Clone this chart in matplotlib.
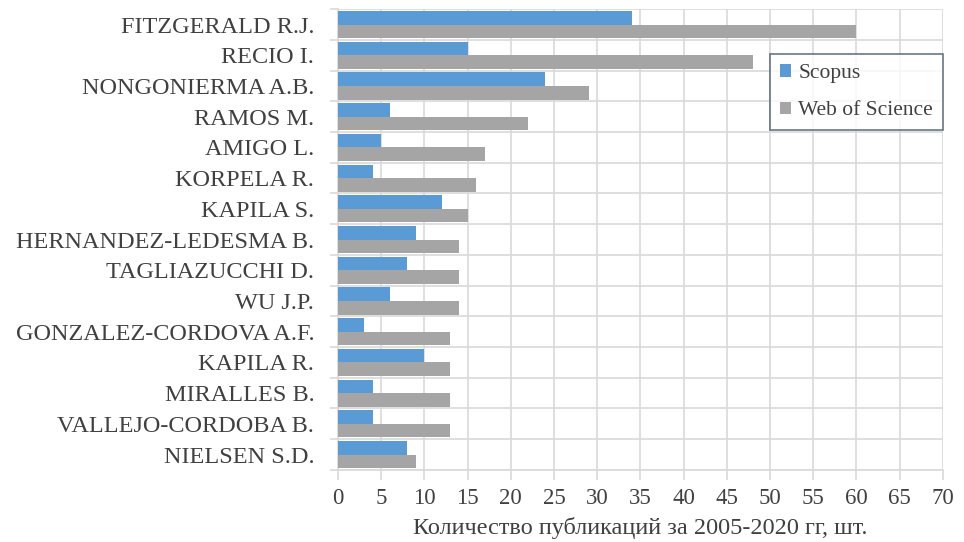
import matplotlib.pyplot as plt
import numpy as np
from matplotlib.ticker import FixedLocator, MultipleLocator

authors = [
    "FITZGERALD R.J.",
    "RECIO I.",
    "NONGONIERMA A.B.",
    "RAMOS M.",
    "AMIGO L.",
    "KORPELA R.",
    "KAPILA S.",
    "HERNANDEZ-LEDESMA B.",
    "TAGLIAZUCCHI D.",
    "WU J.P.",
    "GONZALEZ-CORDOVA A.F.",
    "KAPILA R.",
    "MIRALLES B.",
    "VALLEJO-CORDOBA B.",
    "NIELSEN S.D.",
]
scopus = [34, 15, 24, 6, 5, 4, 12, 9, 8, 6, 3, 10, 4, 4, 8]
wos = [60, 48, 29, 22, 17, 16, 15, 14, 14, 14, 13, 13, 13, 13, 9]

BLUE = "#5B9BD5"
GRAY = "#A5A5A5"
GRID = "#D9D9D9"
TEXT = "#404040"

plt.rcParams["font.family"] = ["Liberation Serif", "DejaVu Serif"]

fig = plt.figure(figsize=(9.64, 5.42), dpi=100)
ax = fig.add_axes([0.3506, 0.133, 0.978 - 0.3506, 0.983 - 0.133])

y = np.arange(len(authors))
h = 0.44
ax.barh(y - h / 2, scopus, height=h, color=BLUE, label="Scopus", zorder=3)
ax.barh(y + h / 2, wos, height=h, color=GRAY, label="Web of Science", zorder=3)

ax.set_ylim(len(authors) - 0.5, -0.5)
ax.set_xlim(0, 70)
ax.xaxis.set_major_locator(MultipleLocator(5))
ax.set_yticks(y)
ax.set_yticklabels(authors, fontsize=17.5, color=TEXT)
ax.yaxis.set_minor_locator(FixedLocator(np.arange(-0.5, len(authors), 1)))

# category separators get the small outward ticks, labels sit in between
ax.tick_params(axis="y", which="major", length=0, pad=17)
ax.tick_params(axis="y", which="minor", length=6, color=GRID, width=1.2)
ax.tick_params(axis="x", which="major", length=7, color=GRID, width=1.2,
               labelsize=16.5, labelcolor=TEXT, pad=6)

ax.grid(True, axis="x", color=GRID, linewidth=1.2, zorder=0)
ax.grid(True, axis="y", which="minor", color=GRID, linewidth=1.2, zorder=0)
ax.set_axisbelow(True)

for side in ["top", "right"]:
    ax.spines[side].set_visible(False)
for side in ["left", "bottom"]:
    ax.spines[side].set_color(GRID)
    ax.spines[side].set_linewidth(1.2)

ax.set_xlabel("Количество публикаций за 2005-2020 гг, шт.", fontsize=17.5,
              color=TEXT, labelpad=6)

leg = ax.legend(loc="upper right", bbox_to_anchor=(1.0, 0.902), fontsize=15.5,
                frameon=True, fancybox=False, handlelength=0.5, handleheight=0.5,
                handletextpad=0.35, labelspacing=0.85, borderpad=0.45,
                borderaxespad=0)
leg.get_frame().set_edgecolor("#44546A")
leg.get_frame().set_linewidth(1.2)
for t in leg.get_texts():
    t.set_color(TEXT)

fig.savefig("out.png", dpi=100)
